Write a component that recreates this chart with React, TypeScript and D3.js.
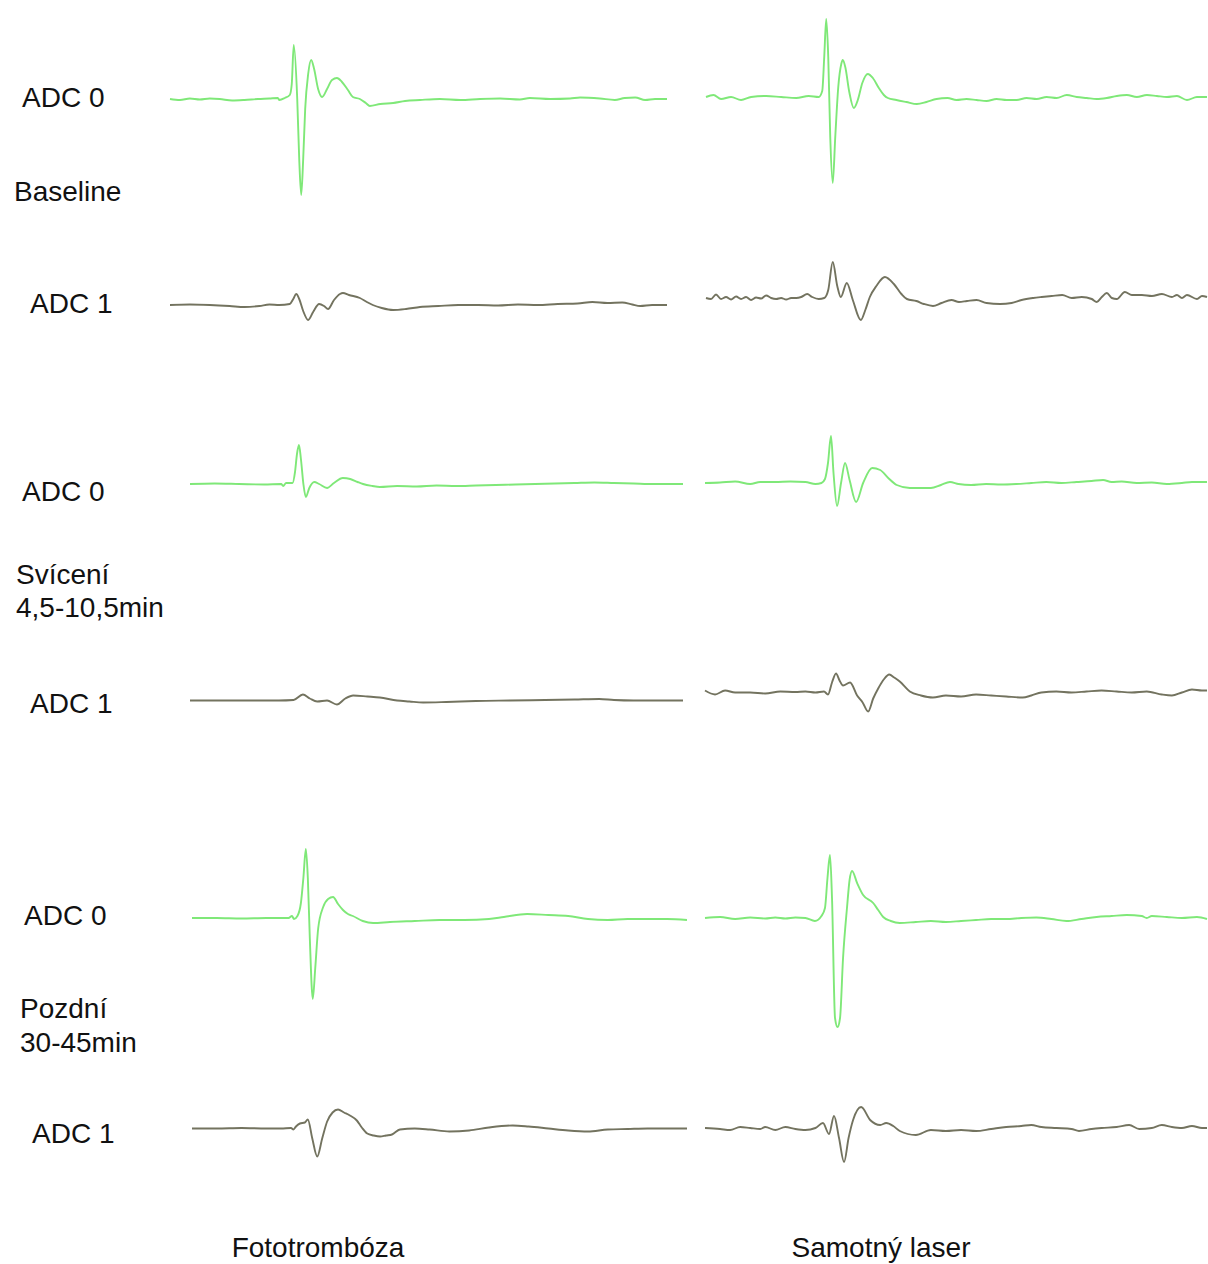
import React, { useEffect, useRef } from "react";
import * as d3 from "d3";

type Pt = [number, number];

// popisky řádků, sloupců a kanálů
const rowLabels = [["Baseline"], ["Svícení", "4,5-10,5min"], ["Pozdní", "30-45min"]];
const columnTitles = ["Fototrombóza", "Samotný laser"];
const channelNames = ["ADC 0", "ADC 1"];

// čas 0-100 (relativně), amplituda v libovolných jednotkách (kladná nahoru)
const baselineFotoAdc0: Pt[] = [
  [0, 0], [2, -1], [4, 0.5], [6, -0.5], [8, 0.5], [10, 0], [12.5, -1.5], [15, -1], [17.7, 0], [20, 0.5],
  [21.7, 1], [22, -1], [23.1, 1], [24.1, 4], [24.5, 15], [24.9, 54], [25.6, 0], [26.0, -60], [26.4, -96],
  [26.8, -60], [27.2, -10], [27.8, 25], [28.4, 39], [29.0, 30], [29.8, 10], [30.6, 2], [31.6, 10], [32.6, 19],
  [33.6, 21], [34.6, 17], [35.8, 9], [36.8, 2], [38.2, 0], [39.4, -4], [40.2, -7], [42.3, -5], [44.9, -4],
  [47.3, -2], [50.3, -1], [54.3, 0], [58.4, -1], [62.4, 0], [66.4, 0.5], [70.4, -0.5], [72.4, 1], [76.5, 0],
  [80.5, 0.5], [82.5, 1.5], [86.5, 0.5], [89.5, -1], [91.5, 1], [93.6, 1.5], [95.6, -1], [97.6, 0], [100, 0],
];
const baselineLaserAdc0: Pt[] = [
  [0, 0], [1.5, 2], [3, -2], [5, 0], [7, -3], [9, 0], [12, 1], [15, 0], [18, -1], [20.5, 1], [22.5, 0],
  [23.2, 6], [23.6, 40], [24.0, 78], [24.4, 40], [24.8, -40], [25.3, -86], [25.8, -40], [26.4, 10], [27.0, 33],
  [27.3, 37], [27.8, 30], [28.6, 5], [29.5, -11], [30.3, -3], [31.2, 14], [32.3, 23], [33.3, 19], [34.5, 9],
  [35.5, 2], [36.3, -1], [38, -3], [40, -5], [42.1, -7], [44, -5], [46, -2], [48.2, -1], [50, -3], [52, -2],
  [54, -3], [56, -4], [58, -2], [60, -3], [62, -3], [64, -1], [66, -2], [68, 0], [70, -1], [72, 2], [74, 0],
  [76, -1], [78, -2], [80, -1], [82, 1], [84, 2], [86, 0], [88, 2], [90, 1], [92, 0], [94, 1], [96, -3],
  [98, 0], [100, 0],
];
const baselineFotoAdc1: Pt[] = [
  [0, 0], [4, 0.5], [8, 0], [12, -1], [15, -2], [18, -1], [20, 0.5], [22, 0], [24.1, 1], [24.8, 6],
  [25.4, 11], [26.0, 6], [26.8, -6], [27.8, -15], [28.8, -7], [30.0, 1], [31.0, -1], [31.8, -4], [33.0, 5],
  [34.2, 11], [34.8, 12], [36.0, 10], [38.2, 7], [39.6, 3], [40.8, 0], [42.6, -3], [44.9, -5], [47.5, -4],
  [50.3, -2], [54, -1], [58, 0], [62, 0], [66, -0.5], [70, 0.5], [74, 0], [78, 1], [82, 1.5], [85, 3],
  [88, 2], [91, 2.5], [93, 0.5], [94.6, -1], [97, 0], [100, 0],
];
const baselineLaserAdc1: Pt[] = [
  [0, 0], [1, -1], [2, 3.5], [3, -1], [4, 1], [5, -1.5], [6, 1.5], [7, -1], [8, 1], [9, -2], [10, 0.5],
  [11, -0.5], [12, 2.5], [13, 0], [14, -1], [15, 0], [16, -1.5], [17, 0], [18, 0], [19, 1], [20.2, 4],
  [21.2, 1], [22.5, -1], [23.6, 0], [24.4, 8], [25.3, 36], [26.2, 12], [26.9, 1], [28.1, 15], [29.3, -2],
  [30.9, -22], [31.8, -12], [32.7, 1], [34, 12], [35.7, 21], [37.5, 14], [39, 4], [40.1, -1], [42, -3],
  [43.5, -6], [45.3, -8], [47, -5], [49, -2], [50.5, -4], [52.1, -3], [54, -2], [56, -5], [58.7, -6],
  [61, -5], [63, -2], [65.3, 0], [67, 1], [69, 2], [71.1, 3], [73, 0], [75, 1], [77, -1], [78, -4], [79, 1],
  [80, 5], [81, 0], [82, -1], [83.6, 6], [85, 3], [87, 3], [89, 2], [91, 4], [93, 1], [94, 3], [95, 0],
  [96, 3], [98, -1], [99, 2], [100, 1],
];
const sviceniFotoAdc0: Pt[] = [
  [0, 0], [5, 0.5], [10, 0], [15, -0.5], [18.5, 0], [18.9, -2], [19.5, 1], [20.8, 1], [21.3, 12],
  [21.7, 30], [22.1, 39], [22.5, 25], [23.0, 0], [23.5, -13], [24.2, -4], [25.2, 2], [26.2, 0], [27.8, -4],
  [29.2, 1], [31.0, 6], [32.5, 5], [34, 2], [35.1, 0], [37, -2], [38.5, -3], [42, -2], [46, -2.5],
  [50, -1.5], [54, -2], [58, -1.5], [62, -1], [66, -0.5], [70, 0], [74, 0.5], [78, 1], [82, 1.5], [86, 1],
  [90, 0.5], [94, 0], [100, 0],
];
const sviceniLaserAdc0: Pt[] = [
  [0, 0], [3, 0.5], [6, 1.5], [9, -1], [11, 1], [14, 1], [17, 1.5], [20, 1], [22, -1], [23.2, 0],
  [23.9, 4], [24.5, 20], [25.1, 47], [25.6, 10], [26.3, -23], [27.1, 0], [27.9, 20], [28.8, 3],
  [30.1, -19], [31.5, 0], [33.3, 15], [34.9, 13], [36.5, 5], [38.2, -2], [40.8, -5], [43, -5], [45, -5],
  [47, -2], [48.8, 1], [50.5, -1], [53, -2], [56, -1], [59, -1.5], [62, -1], [65, 0], [68, 1], [71, 0],
  [74, 1], [77, 2], [79.3, 3], [81, 1], [83, 1.5], [86, 0], [89, 0.5], [92, -1], [95, 0], [97, 1], [100, 1],
];
const sviceniFotoAdc1: Pt[] = [
  [0, 0], [10, 0], [18, 0], [21, 0.5], [22.9, 6], [24.3, 2], [25.8, -1], [27.8, 0], [29.8, -4],
  [31.5, 2], [33.1, 5], [36, 4], [38.5, 3], [42, 0], [44.5, -1], [47.3, -2], [52, -1.5], [58, -0.5],
  [65, 0], [72, 0.5], [78, 1], [83, 1.5], [86, 0.5], [90, 0], [95, 0], [100, 0],
];
const sviceniLaserAdc1: Pt[] = [
  [0, 2], [2, -2], [4, 2], [6, 0], [9, 0], [12, -1], [15, 1], [18, 0.5], [20, 1], [22, 0], [23.7, 1],
  [24.5, -2], [25.3, 10], [26.1, 19], [26.8, 12], [27.5, 7], [28.9, 10], [30.3, -3], [31.4, -10],
  [32.5, -19], [33.5, -6], [34.5, 4], [35.6, 13], [36.7, 18], [37.7, 15], [38.8, 11], [40.8, 1], [43, -3],
  [45.4, -5], [48, -3], [51, -4], [54, -2], [57, -3], [60, -4], [63.3, -5], [65, -3], [67, 0], [70, 1],
  [73, 0], [76, 1], [79, 2], [82, 1], [85, 0], [88, 1], [91, -2], [93, -3], [95, 0], [97, 3], [99, 2],
  [100, 2],
];
const pozdniFotoAdc0: Pt[] = [
  [0, 0], [5, 0], [10, -0.5], [15, 0], [19.5, 0], [20.2, 2], [20.6, -1], [21.3, 2], [22.0, 15],
  [22.5, 40], [23.0, 69], [23.4, 40], [23.8, -20], [24.4, -81], [24.9, -50], [25.5, -10], [26.5, 11],
  [27.5, 19], [28.5, 21], [29.5, 14], [30.5, 8], [31.5, 4], [32.5, 2], [34.5, -3], [36.6, -5], [40, -4],
  [45, -3], [50, -2], [55, -2], [60, -1], [63, 1], [67.7, 4], [72, 3], [76, 2], [80, -1], [84, -2],
  [88, -1], [92, -1], [96, -1], [100, -2],
];
const pozdniLaserAdc0: Pt[] = [
  [0, 0], [3, 1], [6, -1], [9, 0.5], [12, -0.5], [14, 0.5], [16, -0.5], [18, 0.5], [20, 0], [21.9, -3],
  [23.2, 2], [23.9, 10], [24.4, 40], [24.9, 63], [25.3, 20], [25.9, -100], [26.4, -109], [26.9, -100],
  [27.5, -40], [28.3, 11], [28.8, 38], [29.3, 47], [30.3, 35], [31.5, 23], [33.5, 15], [34.5, 8],
  [35.5, 1], [37, -3], [38.8, -5], [42, -4], [45, -3], [48, -4], [51, -3], [54, -2], [57, -1], [60, -1],
  [63, 0], [66, 0.5], [69, -1], [72, -3], [75, -1], [78, 1], [81, 2], [84, 3], [87, 2], [88, 0], [89, 2],
  [92, 1], [95, 0], [98, 1], [100, -1],
];
const pozdniFotoAdc1: Pt[] = [
  [0, 0], [5, 0], [10, 0.5], [15, 0], [18, 0], [20, 0.5], [20.5, -1], [21, 2], [21.8, 5], [22.8, 6],
  [23.4, 9], [24.3, -10], [25.3, -28], [26.3, -10], [27.3, 7], [28.4, 16], [29.5, 19], [30.7, 16],
  [31.9, 13], [33.3, 8], [34.3, 1], [35.4, -5], [36.7, -7], [38, -8], [39.2, -7], [40.4, -6], [42, -1],
  [45, 0], [48, -1], [52, -3], [56, -2], [60, 1], [64.8, 3], [68, 2], [72, 0], [76, -2], [80, -3],
  [84, -1], [88, -0.5], [92, 0], [96, 0], [100, 0],
];
const pozdniLaserAdc1: Pt[] = [
  [0, 0], [3, -1], [5, -2], [7, 1], [9, 0], [11, -1], [12, 1], [14, -2], [16, 1], [18, -1], [20, -2],
  [22, 0], [23.5, 5], [24.7, -6], [25.7, 12], [26.7, -10], [27.7, -34], [28.6, -10], [29.5, 8],
  [31.1, 21], [32.9, 8], [34.9, 3], [36.1, 5], [37.5, 2], [38.8, -3], [42, -7], [45, -2], [48, -3],
  [51, -2], [54, -3], [57, -1], [60, 1], [63, 2], [65, 3], [67, 1], [70, 0], [73, -1], [74.5, -3],
  [77, -1], [79, 0], [82, 1], [84.5, 3], [86.5, -1], [89, 0], [91, 3], [93, 1], [95, 0], [97, 2], [99, 0],
  [100, 0],
];

// [řádek][sloupec][kanál]
const traceData: Pt[][][][] = [
  [[baselineFotoAdc0, baselineFotoAdc1], [baselineLaserAdc0, baselineLaserAdc1]],
  [[sviceniFotoAdc0, sviceniFotoAdc1], [sviceniLaserAdc0, sviceniLaserAdc1]],
  [[pozdniFotoAdc0, pozdniFotoAdc1], [pozdniLaserAdc0, pozdniLaserAdc1]],
];

// rozložení v pixelech
const W = 1208;
const H = 1264;
const spanX = [
  [[170, 667], [706, 1207]],
  [[190, 683], [705, 1207]],
  [[192, 687], [705, 1207]],
];
const baseY = [
  [[99, 305], [97, 298]],
  [[484, 700.5], [483, 692.5]],
  [[918, 1128.5], [918, 1128]],
];
const channelLabelPos = [
  [[22, 107], [30, 313]],
  [[22, 501], [30, 713]],
  [[24, 925], [32, 1143]],
];
const rowLabelPos = [
  [[14, 201]],
  [[16, 584], [16, 617]],
  [[20, 1018], [20, 1052]],
];
const columnTitleX = [318, 881];
const channelColors = ["#7fe878", "#73735f"];
const FONT = "'Liberation Sans', Arial, Helvetica, sans-serif";
const FONT_SIZE = 28;

export default function App() {
  const svgRef = useRef<SVGSVGElement>(null);

  useEffect(() => {
    document.body.style.margin = "0";
    const svg = d3.select(svgRef.current);
    svg.selectAll("*").remove();
    svg.append("rect").attr("width", W).attr("height", H).attr("fill", "#fff");

    traceData.forEach((row, r) => {
      row.forEach((cols, c) => {
        cols.forEach((data, ch) => {
          const x = d3.scaleLinear().domain([0, 100]).range(spanX[r][c]);
          const y0 = baseY[r][c][ch];
          const y = d3.scaleLinear().domain([-120, 120]).range([y0 + 120, y0 - 120]);
          const line = d3
            .line<Pt>()
            .x((d) => x(d[0]))
            .y((d) => y(d[1]))
            .curve(d3.curveMonotoneX);
          svg
            .append("path")
            .attr("d", line(data))
            .attr("fill", "none")
            .attr("stroke", channelColors[ch])
            .attr("stroke-width", 1.9)
            .attr("stroke-linejoin", "round");
        });
      });

      // ADC popisky
      channelNames.forEach((name, ch) => {
        svg
          .append("text")
          .attr("x", channelLabelPos[r][ch][0])
          .attr("y", channelLabelPos[r][ch][1])
          .attr("font-family", FONT)
          .attr("font-size", FONT_SIZE)
          .attr("fill", "#111")
          .text(name);
      });

      rowLabels[r].forEach((txt, i) => {
        svg
          .append("text")
          .attr("x", rowLabelPos[r][i][0])
          .attr("y", rowLabelPos[r][i][1])
          .attr("font-family", FONT)
          .attr("font-size", FONT_SIZE)
          .attr("fill", "#111")
          .text(txt);
      });
    });

    columnTitles.forEach((t, c) => {
      svg
        .append("text")
        .attr("x", columnTitleX[c])
        .attr("y", 1257)
        .attr("text-anchor", "middle")
        .attr("font-family", FONT)
        .attr("font-size", FONT_SIZE)
        .attr("fill", "#111")
        .text(t);
    });
  }, []);

  return <svg ref={svgRef} width={W} height={H} style={{ display: "block" }} />;
}
